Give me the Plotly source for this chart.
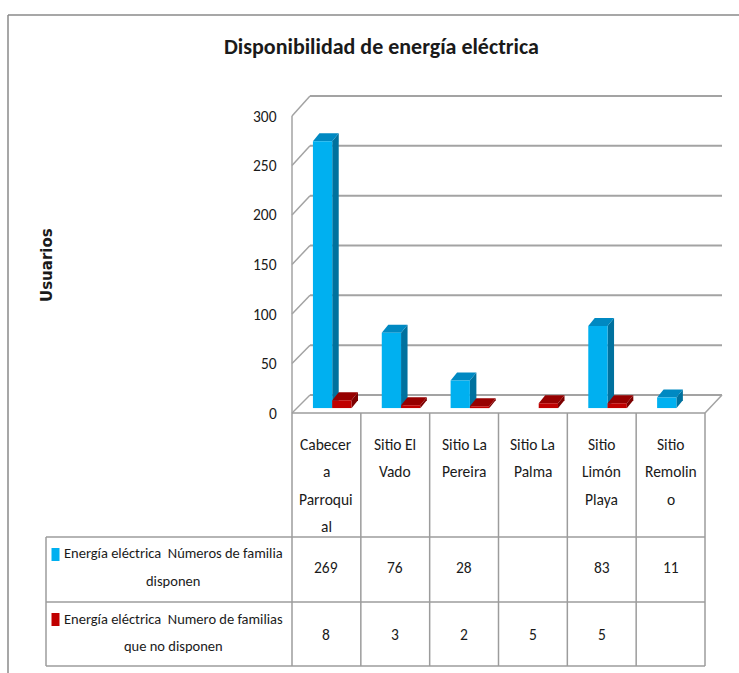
import plotly.graph_objects as go

# ---- data -------------------------------------------------------------
categories = ["Cabecera Parroquial", "Sitio El Vado", "Sitio La Pereira",
              "Sitio La Palma", "Sitio Limón Playa", "Sitio Remolino"]
category_lines = [["Cabecer", "a", "Parroqui", "al"],
                  ["Sitio El", "Vado"],
                  ["Sitio La", "Pereira"],
                  ["Sitio La", "Palma"],
                  ["Sitio", "Limón", "Playa"],
                  ["Sitio", "Remolin", "o"]]
disponen = [269, 76, 28, None, 83, 11]
no_disponen = [8, 3, 2, 5, 5, None]
series_names = ["Energía eléctrica  Números de familia disponen",
                "Energía eléctrica  Numero de familias que no disponen"]
series_lines = [["Energía eléctrica \u00a0Números de familia", "disponen"],
                ["Energía eléctrica \u00a0Numero de familias", "que no disponen"]]
y_ticks = [0, 50, 100, 150, 200, 250, 300]
title = "Disponibilidad de energía eléctrica"
y_title = "Usuarios"

# ---- styling ----------------------------------------------------------
W, H = 739, 673
FONT = "Carlito, Calibri, Roboto Condensed, sans-serif"
TXT = "#1a1a1a"
GRID = "#a3a3a3"
TABLE = "#9c9c9c"
front_fill = ["#00B0F0", "#C00000"]
top_fill = ["#0089C2", "#960000"]
side_fill = ["#00719E", "#7C0000"]

# geometry of the 3D box in pixels
FX0, FX1, FY0, FS = 292, 705, 413, 0.99      # front plane
BX0, BX1, BY0, BS = 310, 722, 395, 0.9967    # back wall
BAR_X0, BAR_X1, BAR_Y0, BAR_S = 297.8, 710.8, 408.3, 0.993
DEPTH_X, DEPTH_Y = 6.5, 8.0                   # bar depth in px

ncat = len(categories)
col_w = (FX1 - FX0) / ncat


def px(x):
    return x / W


def py(y):
    return 1 - y / H


fig = go.Figure()

series = [disponen, no_disponen]
bar_w = 0.28
for s, vals in enumerate(series):
    fig.add_trace(go.Bar(
        x=list(range(ncat)), y=vals, name=series_names[s],
        marker=dict(color=front_fill[s], line=dict(width=0)),
        xaxis="x2", yaxis="y2", showlegend=False, hoverinfo="skip",
    ))

shapes = []


def pline(x0, y0, x1, y1, color, width):
    shapes.append(dict(type="line", xref="paper", yref="paper",
                       x0=px(x0), x1=px(x1), y0=py(y0), y1=py(y1),
                       line=dict(color=color, width=width), layer="below"))


# frame of the chart area
pline(8, 15, W, 15, "#8a8a8a", 1.5)
pline(8, 15, 8, H, "#8a8a8a", 1.5)

# back wall gridlines and side-wall diagonals
for v in y_ticks:
    yb = BY0 - v * BS
    yf = FY0 - v * FS
    pline(BX0, yb, BX1, yb, GRID, 2)
    pline(FX0, yf, BX0, yb, GRID, 1.5)
# front edge of the value axis and floor right edge
pline(FX0, FY0, FX0, FY0 - y_ticks[-1] * FS, GRID, 1.5)
pline(BX1, BY0, FX1, FY0, GRID, 1.5)

# data table grid
ROW_TOP, ROW1, ROW2, ROW_BOT = FY0, 537, 602, 666
LABEL_X0 = 46
pline(FX0, ROW_TOP, FX1, ROW_TOP, TABLE, 1.5)
for yy in (ROW1, ROW2, ROW_BOT):
    pline(LABEL_X0, yy, FX1, yy, TABLE, 1.5)
for i in range(ncat + 1):
    xx = FX0 + i * col_w
    pline(xx, ROW_TOP, xx, ROW_BOT, TABLE, 1.5)
pline(LABEL_X0, ROW1, LABEL_X0, ROW_BOT, TABLE, 1.5)

# legend keys inside the table
for s, (y0, y1) in enumerate([(548, 561), (613, 626)]):
    shapes.append(dict(type="rect", xref="paper", yref="paper",
                       x0=px(51.5), x1=px(59.5), y0=py(y0), y1=py(y1),
                       fillcolor=front_fill[s], line=dict(width=0), layer="below"))

# 3D top and side faces of each bar, derived from the bar values
ddx = DEPTH_X / (BAR_X1 - BAR_X0) * ncat
ddy = DEPTH_Y / BAR_S
for s, vals in enumerate(series):
    for i, v in enumerate(vals):
        if v is None:
            continue
        x0 = i - bar_w + s * bar_w
        x1 = x0 + bar_w
        side = (f"M {x1} 0 L {x1} {v} L {x1 + ddx} {v + ddy} "
                f"L {x1 + ddx} {ddy} Z")
        top = (f"M {x0} {v} L {x1} {v} L {x1 + ddx} {v + ddy} "
               f"L {x0 + ddx} {v + ddy} Z")
        shapes.append(dict(type="path", xref="x2", yref="y2", path=side,
                           fillcolor=side_fill[s], line=dict(width=0),
                           layer="below"))
        shapes.append(dict(type="path", xref="x2", yref="y2", path=top,
                           fillcolor=top_fill[s], line=dict(width=0),
                           layer="below"))

annotations = []


def label(x, y, text, size=15.5, family=FONT, xanchor="center", **kw):
    annotations.append(dict(xref="paper", yref="paper", x=px(x), y=py(y),
                            text=text, showarrow=False, xanchor=xanchor,
                            yanchor="middle",
                            font=dict(family=family, size=size, color=TXT),
                            **kw))


# title and axis title
label(381, 47, f"<b>{title}</b>", size=22)
label(47, 265, f"<b>{y_title}</b>", size=15,
      family="DejaVu Sans, Verdana, sans-serif", textangle=-90)

# value axis tick labels on the front plane
for v in y_ticks:
    label(279, FY0 - v * FS, str(v), xanchor="right")

# table header: category names
LINE_Y0, LINE_DY = 444, 27.5
for i, lines in enumerate(category_lines):
    cx = FX0 + (i + 0.5) * col_w
    for k, t in enumerate(lines):
        label(cx, LINE_Y0 + k * LINE_DY, t)

# table rows
row_y = [567, 634]
row_label_y = [(553, 581), (619, 646)]
for s, vals in enumerate(series):
    for k, t in enumerate(series_lines[s]):
        label(173, row_label_y[s][k], t, size=14.5)
    for i, v in enumerate(vals):
        if v is None:
            continue
        cx = FX0 + (i + 0.5) * col_w
        label(cx, row_y[s], str(v))

fig.update_layout(
    width=W, height=H,
    margin=dict(l=0, r=0, t=0, b=0),
    paper_bgcolor="white", plot_bgcolor="rgba(0,0,0,0)",
    barmode="group", bargap=0.44, bargroupgap=0,
    shapes=shapes, annotations=annotations,
    xaxis2=dict(domain=[px(BAR_X0), px(BAR_X1)], range=[-0.5, ncat - 0.5],
                visible=False, anchor="y2"),
    yaxis2=dict(domain=[py(BAR_Y0), py(BAR_Y0 - 300 * BAR_S)],
                range=[y_ticks[0], y_ticks[-1]], visible=False, anchor="x2"),
)

fig.write_html("out.html")
